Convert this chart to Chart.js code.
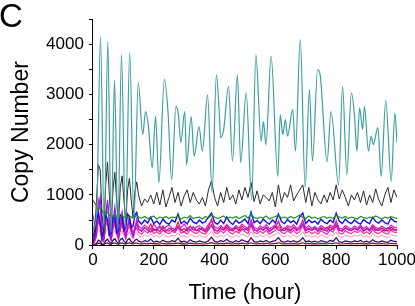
<!DOCTYPE html>
<html>
<head>
<meta charset="utf-8">
<title>Copy Number vs Time</title>
<script src="https://cdn.jsdelivr.net/npm/chart.js@4/dist/chart.umd.min.js"></script>
<style>
  html, body { margin: 0; padding: 0; background: #fff; }
  #wrap { position: relative; width: 415px; height: 306px; overflow: hidden; }
  #panel-letter {
    position: absolute; left: -1px; top: -1px;
    font-family: 'Liberation Sans', Arial, sans-serif;
    font-size: 33px; line-height: 1; color: #000;
  }
  canvas { position: absolute; left: 0; top: 0; }
</style>
</head>
<body>
<div id="wrap">
  <canvas id="my-chart" width="440" height="306"></canvas>
  <div id="panel-letter">C</div>
</div>
<script>
'use strict';

// *********** DATA ****************

let xTickLabels = [0, 200, 400, 600, 800, 1000];
let yTickLabels = [0, 1000, 2000, 3000, 4000];

// shared time grid for the lower lines (hours)
let hours = [0, 6, 12, 18, 24, 30, 36, 42, 48, 54, 60, 66, 72, 78, 84, 90, 96, 102, 108, 114, 120, 126, 132, 138, 144,
  150, 160, 170, 180, 190, 200, 210, 220, 230, 240,
  250, 260, 270, 280, 290, 300, 310, 320, 330, 340,
  350, 360, 370, 380, 390, 400, 410, 420, 430, 440,
  450, 460, 470, 480, 490, 500, 510, 520, 530, 540,
  550, 560, 570, 580, 590, 600, 610, 620, 630, 640,
  650, 660, 670, 680, 690, 700, 710, 720, 730, 740,
  750, 760, 770, 780, 790, 800, 810, 820, 830, 840,
  850, 860, 870, 880, 890, 900, 910, 920, 930, 940,
  950, 960, 970, 980, 990, 1000];

// the big teal line has its own time points (peaks and troughs)
let cyanHours = [0, 12, 25, 37, 49, 60, 71, 82, 94, 107, 121, 135, 149, 164, 173, 182, 195, 206, 217, 235,
  247, 259, 273, 281, 289, 302, 308, 323, 333, 349, 360, 377, 392, 406, 415, 420, 430, 446, 459, 475,
  486, 504, 522, 536, 553, 561, 569, 586, 608, 616, 624, 633, 640, 657, 666, 682, 698, 712, 722, 739,
  747, 770, 783, 808, 821, 835, 850, 860, 868, 877, 887, 893, 906, 915, 922, 937, 948, 963, 981, 993, 1000];
let cyanCopies = [300, 600, 4150, 300, 4040, 250, 3280, 300, 3790, 350, 3830, 500, 3230, 2200, 2660, 2400, 1540, 2570, 1240, 3300,
  2640, 1300, 2760, 2600, 2040, 2660, 1600, 2560, 1770, 2360, 1870, 2990, 1050, 3390, 2700, 2140, 2300, 3160, 1670, 3390,
  1640, 3030, 900, 3790, 2070, 2460, 2000, 3760, 1370, 2600, 2200, 2500, 2170, 2700, 1870, 4090, 1150, 3100, 1670, 3490,
  3400, 1660, 2660, 1200, 3160, 1400, 3030, 2600, 1870, 2730, 2300, 2760, 1870, 2170, 2000, 2340, 1370, 2880, 1270, 2630, 2040];

let blackCopies = [150, 300, 900, 1600, 1500, 600, 250, 1200, 1650, 1000, 350, 1100, 1450, 900, 400, 1150, 1380, 900, 450, 1100, 1330, 900, 550, 1050, 1260,
  1000, 780, 920, 850, 1000, 820, 1050, 800, 1100, 760,
  950, 1150, 850, 1050, 780, 980, 1100, 850, 1050, 900,
  820, 950, 780, 1100, 1280, 950, 780, 1050, 850, 1150,
  900, 1000, 820, 1100, 900, 1150, 950, 1250, 870, 1080,
  820, 1000, 950, 880, 1050, 760, 1200, 850, 1050, 950,
  1200, 880, 1000, 1100, 1200, 850, 1150, 780, 1050, 900,
  820, 1000, 850, 1050, 900, 1200, 920, 1100, 950, 780,
  1000, 900, 1050, 850, 1080, 800, 1000, 850, 1120, 900,
  780, 1000, 1150, 850, 1100, 950];

let greenCopies = [900, 840, 780, 720, 740, 680, 640, 620, 660, 600, 580, 570, 600, 560, 550, 560, 590, 560, 540, 550, 580, 560, 540, 555, 600,
  560, 540, 570, 530, 550, 580, 520, 560, 540, 570,
  530, 560, 550, 580, 520, 560, 540, 590, 530, 550,
  560, 520, 570, 540, 600, 560, 530, 550, 580, 520,
  560, 540, 570, 530, 560, 590, 540, 620, 550, 530,
  560, 540, 580, 520, 550, 570, 600, 540, 560, 530,
  570, 540, 560, 600, 550, 530, 580, 540, 560, 520,
  550, 570, 540, 560, 530, 600, 560, 540, 570, 530,
  560, 540, 520, 570, 550, 530, 560, 540, 580, 550,
  520, 560, 540, 570, 550, 530];

let blueCopies = [50, 200, 500, 650, 450, 150, 300, 600, 500, 200, 250, 580, 550, 250, 300, 600, 550, 300, 350, 620, 560, 350, 380, 600, 650,
  480, 420, 500, 440, 560, 430, 480, 410, 520, 450,
  420, 500, 460, 620, 430, 480, 420, 540, 460, 430,
  500, 440, 470, 560, 640, 450, 420, 500, 430, 560,
  460, 410, 500, 440, 470, 520, 430, 660, 450, 490,
  430, 520, 460, 420, 500, 440, 620, 470, 430, 510,
  450, 490, 420, 560, 640, 430, 500, 450, 480, 420,
  520, 460, 430, 500, 450, 640, 480, 430, 520, 460,
  430, 500, 450, 420, 510, 460, 430, 560, 470, 440,
  500, 450, 420, 540, 480, 460];

let purpleCopies = [600, 400, 200, 700, 950, 400, 100, 500, 900, 450, 120, 450, 760, 400, 150, 400, 650, 350, 150, 350, 550, 300, 170, 300, 450,
  320, 280, 350, 300, 260, 330, 290, 360, 300, 270,
  340, 300, 280, 350, 310, 260, 330, 300, 370, 290,
  300, 340, 270, 320, 400, 300, 280, 330, 300, 350,
  290, 320, 360, 280, 330, 300, 350, 420, 300, 280,
  330, 300, 350, 270, 320, 380, 300, 290, 340, 310,
  280, 350, 300, 330, 420, 290, 320, 300, 350, 280,
  320, 300, 360, 290, 330, 410, 300, 280, 340, 310,
  290, 330, 300, 360, 280, 320, 300, 340, 290, 330,
  300, 280, 350, 320, 300, 290];

let magentaCopies = [400, 150, 600, 900, 700, 200, 150, 650, 850, 450, 150, 400, 700, 500, 200, 350, 620, 450, 200, 380, 560, 400, 220, 350, 520,
  380, 330, 400, 350, 310, 420, 340, 380, 320, 360,
  400, 340, 310, 380, 350, 420, 330, 370, 310, 360,
  390, 340, 310, 420, 470, 360, 330, 390, 340, 410,
  350, 320, 390, 340, 420, 370, 330, 480, 350, 320,
  380, 340, 410, 320, 360, 400, 460, 350, 330, 390,
  350, 410, 330, 380, 480, 340, 390, 330, 370, 320,
  390, 350, 320, 400, 360, 470, 340, 320, 390, 350,
  320, 380, 340, 400, 330, 370, 310, 410, 350, 330,
  380, 340, 320, 400, 360, 350];

let redCopies = [20, 100, 350, 550, 400, 100, 150, 450, 520, 250, 120, 380, 500, 300, 150, 350, 480, 300, 180, 380, 460, 300, 200, 360, 430,
  330, 280, 350, 300, 420, 290, 320, 270, 380, 300,
  280, 340, 310, 460, 290, 330, 280, 380, 310, 290,
  340, 300, 270, 360, 520, 310, 280, 350, 300, 400,
  310, 280, 340, 300, 380, 330, 290, 500, 310, 280,
  340, 300, 360, 280, 320, 350, 480, 300, 290, 350,
  300, 360, 290, 330, 500, 300, 340, 290, 330, 280,
  350, 310, 280, 360, 320, 480, 300, 280, 350, 310,
  290, 340, 300, 360, 290, 330, 280, 380, 310, 290,
  340, 300, 280, 360, 320, 310];

let pinkCopies = [0, 80, 300, 480, 350, 80, 120, 400, 450, 200, 100, 320, 420, 250, 120, 300, 400, 250, 150, 300, 380, 250, 170, 290, 350,
  260, 220, 290, 240, 330, 230, 270, 220, 300, 250,
  230, 280, 250, 360, 240, 270, 220, 310, 260, 230,
  280, 240, 220, 300, 400, 250, 230, 290, 240, 320,
  250, 220, 280, 240, 310, 270, 230, 390, 250, 230,
  280, 240, 300, 220, 260, 290, 380, 250, 230, 290,
  240, 300, 230, 270, 390, 240, 280, 230, 270, 220,
  290, 250, 220, 300, 260, 380, 240, 220, 290, 250,
  230, 280, 250, 300, 230, 270, 220, 310, 250, 230,
  280, 240, 220, 300, 260, 250];

let lightPinkCopies = [0, 50, 200, 350, 250, 60, 80, 280, 330, 150, 80, 250, 300, 180, 100, 220, 290, 180, 110, 220, 270, 180, 120, 210, 250,
  190, 160, 210, 170, 230, 160, 200, 150, 220, 180,
  160, 200, 180, 250, 170, 190, 160, 220, 180, 160,
  200, 170, 150, 210, 280, 180, 160, 200, 170, 230,
  180, 150, 200, 170, 220, 190, 160, 270, 180, 160,
  200, 170, 210, 150, 190, 210, 260, 180, 160, 200,
  170, 210, 160, 190, 270, 170, 200, 160, 190, 150,
  210, 180, 150, 210, 190, 260, 170, 150, 200, 180,
  160, 200, 180, 210, 160, 190, 150, 220, 180, 160,
  200, 170, 150, 210, 190, 180];

let navyCopies = [0, 10, 40, 100, 80, 20, 20, 90, 120, 60, 30, 100, 130, 70, 40, 110, 140, 80, 40, 110, 130, 70, 50, 100, 120,
  80, 60, 90, 70, 120, 60, 80, 55, 100, 70,
  60, 90, 70, 140, 60, 80, 55, 110, 70, 60,
  85, 65, 55, 90, 160, 75, 60, 90, 70, 120,
  70, 55, 90, 65, 110, 80, 60, 150, 70, 60,
  85, 65, 95, 55, 75, 90, 150, 70, 60, 85,
  65, 90, 60, 80, 150, 65, 85, 60, 80, 55,
  90, 70, 55, 95, 75, 150, 65, 55, 85, 70,
  60, 85, 70, 95, 60, 80, 55, 110, 70, 60,
  85, 65, 55, 100, 75, 70];

let darkRedCopies = [0, 5, 15, 40, 35, 10, 10, 40, 45, 20, 15, 40, 45, 25, 20, 40, 45, 30, 20, 40, 45, 30, 25, 40, 40,
  30, 25, 35, 28, 40, 25, 32, 24, 38, 28,
  25, 35, 30, 45, 26, 32, 24, 40, 30, 26,
  34, 28, 24, 36, 50, 30, 26, 35, 28, 42,
  30, 24, 36, 28, 40, 32, 26, 48, 30, 26,
  34, 28, 38, 24, 30, 36, 48, 30, 26, 34,
  28, 36, 26, 32, 48, 28, 34, 26, 32, 24,
  36, 30, 24, 38, 30, 48, 28, 24, 34, 30,
  26, 34, 30, 38, 26, 32, 24, 40, 30, 26,
  34, 28, 24, 38, 30, 30];

// ********** HELPER FUNCTIONS ********************

function toPoints(xs, ys) {
  let pts = [];
  for (let i = 0; i < xs.length; i++) {
    pts.push({ x: xs[i], y: ys[i] });
  }
  return pts;
}

function makeLine(label, xs, ys, color, width) {
  return {
    label: label,
    data: toPoints(xs, ys),
    borderColor: color,
    borderWidth: width,
    pointRadius: 0,
    fill: false,
    tension: 0
  };
}

// first dataset is painted last (on top)
let datasets = [
  makeLine('teal', cyanHours, cyanCopies, '#3e9f9f', 1.2),
  makeLine('black', hours, blackCopies, '#2b2b2b', 1),
  makeLine('green', hours, greenCopies, '#1f8f1f', 1.2),
  makeLine('blue', hours, blueCopies, '#1010f0', 1.4),
  makeLine('purple', hours, purpleCopies, '#9a20e0', 1.2),
  makeLine('magenta', hours, magentaCopies, '#f010e0', 1.2),
  makeLine('red', hours, redCopies, '#f01010', 1.2),
  makeLine('pink', hours, pinkCopies, '#ff2a8a', 1.2),
  makeLine('light pink', hours, lightPinkCopies, '#ff8ac8', 1),
  makeLine('navy', hours, navyCopies, '#10107a', 1.2),
  makeLine('dark red', hours, darkRedCopies, '#8a1010', 1.2)
];
datasets[0].cubicInterpolationMode = 'monotone';

// ********** CHART ********************

let ctx = document.getElementById('my-chart').getContext('2d');
let fontFamily = "'Liberation Sans', Arial, sans-serif";

let myChartObj = {
  type: 'line',
  data: { datasets: datasets },
  options: {
    responsive: false,
    animation: false,
    devicePixelRatio: 1,
    layout: { padding: { left: 8, top: 19, right: 43, bottom: 0 } },
    plugins: {
      legend: { display: false },
      tooltip: { enabled: false }
    },
    scales: {
      x: {
        type: 'linear',
        min: 0,
        max: 1000,
        border: { color: '#000', width: 1 },
        grid: { drawOnChartArea: false, color: '#000', tickLength: 4 },
        ticks: {
          stepSize: 100,
          autoSkip: false,
          maxRotation: 0,
          padding: 1,
          color: '#000',
          font: { family: fontFamily, size: 17 },
          callback: function (value) {
            return xTickLabels.includes(value) ? String(value) : '';
          }
        },
        title: {
          display: true,
          text: 'Time (hour)',
          color: '#000',
          font: { family: fontFamily, size: 22 },
          padding: { top: 8, bottom: 0 }
        }
      },
      y: {
        min: 0,
        max: 4500,
        border: { color: '#000', width: 1 },
        grid: { drawOnChartArea: false, color: '#000', tickLength: 4 },
        ticks: {
          stepSize: 500,
          autoSkip: false,
          padding: 5,
          color: '#000',
          font: { family: fontFamily, size: 17 },
          callback: function (value) {
            return yTickLabels.includes(value) ? String(value) : '';
          }
        },
        title: {
          display: true,
          text: 'Copy Number',
          color: '#000',
          font: { family: fontFamily, size: 23 },
          padding: { top: 0, bottom: 5.5 }
        }
      }
    }
  }
};

new Chart(ctx, myChartObj);
</script>
</body>
</html>
